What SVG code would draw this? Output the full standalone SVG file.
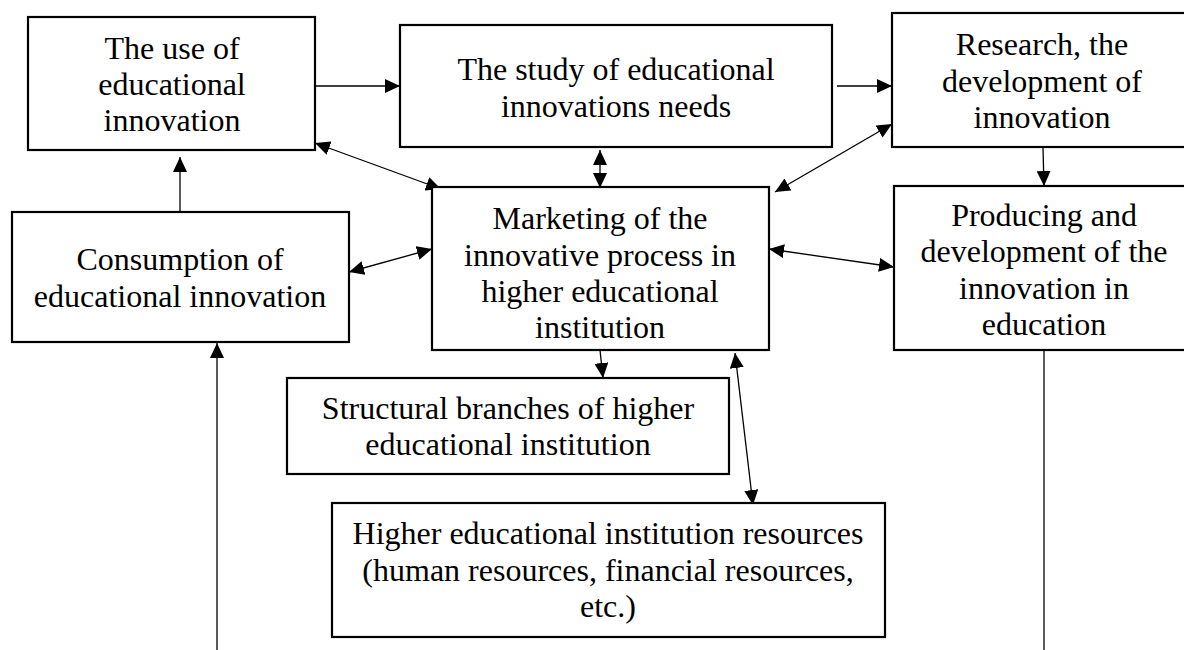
<svg xmlns="http://www.w3.org/2000/svg" width="1184" height="650" viewBox="0 0 1184 650">
<style>
.box{fill:#fff;stroke:#000;stroke-width:2.2}
.t{font-family:"Liberation Serif","Times New Roman",serif;font-size:32px;fill:#000;text-anchor:middle}
.c{fill:none;stroke:#000;stroke-width:1.3}
</style>
<defs>
<marker id="ah" viewBox="0 0 15 14" refX="15" refY="7" markerWidth="15" markerHeight="14" markerUnits="userSpaceOnUse" orient="auto-start-reverse">
<path d="M0,0 L15,7 L0,14 z" fill="#000"/>
</marker>
</defs>
<rect width="1184" height="650" fill="#fff"/>
<g id="connectors">
<line class="c" x1="316" y1="86" x2="400" y2="86" marker-end="url(#ah)"/>
<line class="c" x1="837" y1="86" x2="892" y2="86" marker-end="url(#ah)"/>
<line class="c" x1="1043" y1="148" x2="1044" y2="186" marker-end="url(#ah)"/>
<line class="c" x1="180" y1="212" x2="180" y2="157" marker-end="url(#ah)"/>
<line class="c" x1="315" y1="143" x2="441" y2="189" marker-start="url(#ah)" marker-end="url(#ah)"/>
<line class="c" x1="600" y1="150" x2="600" y2="188" marker-start="url(#ah)" marker-end="url(#ah)"/>
<line class="c" x1="892" y1="124" x2="775" y2="192" marker-start="url(#ah)" marker-end="url(#ah)"/>
<line class="c" x1="349" y1="272" x2="432" y2="249" marker-start="url(#ah)" marker-end="url(#ah)"/>
<line class="c" x1="769" y1="249" x2="894" y2="267" marker-start="url(#ah)" marker-end="url(#ah)"/>
<line class="c" x1="600" y1="350" x2="603" y2="378" marker-end="url(#ah)"/>
<line class="c" x1="735" y1="353" x2="753" y2="505" marker-start="url(#ah)" marker-end="url(#ah)"/>
<line class="c" x1="217" y1="650" x2="217" y2="343" marker-end="url(#ah)"/>
<line class="c" x1="1044" y1="350" x2="1044" y2="650"/>
</g>
<g id="use">
<rect class="box" x="28" y="17" width="287" height="133"/>
<text class="t" x="172" y="59">The use of</text>
<text class="t" x="172" y="95">educational</text>
<text class="t" x="172" y="131">innovation</text>
</g>
<g id="study">
<rect class="box" x="400" y="25" width="432" height="122"/>
<text class="t" x="616" y="80">The study of educational</text>
<text class="t" x="616" y="116.5">innovations needs</text>
</g>
<g id="research">
<rect class="box" x="892" y="13" width="300" height="134"/>
<text class="t" x="1042" y="55">Research, the</text>
<text class="t" x="1042" y="91.5">development of</text>
<text class="t" x="1042" y="128">innovation</text>
</g>
<g id="consumption">
<rect class="box" x="12" y="212" width="337" height="130"/>
<text class="t" x="180" y="270">Consumption of</text>
<text class="t" x="180" y="306.5">educational innovation</text>
</g>
<g id="marketing">
<rect class="box" x="432" y="187" width="337" height="163"/>
<text class="t" x="600" y="229">Marketing of the</text>
<text class="t" x="600" y="266">innovative process in</text>
<text class="t" x="600" y="302">higher educational</text>
<text class="t" x="600" y="338">institution</text>
</g>
<g id="producing">
<rect class="box" x="894" y="186" width="300" height="164"/>
<text class="t" x="1044" y="226">Producing and</text>
<text class="t" x="1044" y="262">development of the</text>
<text class="t" x="1044" y="299">innovation in</text>
<text class="t" x="1044" y="335">education</text>
</g>
<g id="structural">
<rect class="box" x="287" y="378" width="442" height="96"/>
<text class="t" x="508" y="419">Structural branches of higher</text>
<text class="t" x="508" y="455">educational institution</text>
</g>
<g id="resources">
<rect class="box" x="332" y="503" width="553" height="134"/>
<text class="t" x="608" y="544">Higher educational institution resources</text>
<text class="t" x="608" y="581">(human resources, financial resources,</text>
<text class="t" x="608" y="617">etc.)</text>
</g>
</svg>
